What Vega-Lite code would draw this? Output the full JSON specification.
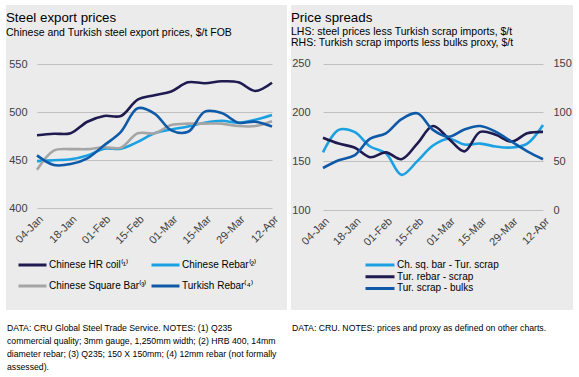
{
  "$schema": "https://vega.github.io/schema/vega-lite/v6.json",
  "background": "white",
  "padding": {"left": 6, "top": 5, "right": 0, "bottom": 0},
  "spacing": 4,
  "resolve": {"scale": {"color": "independent"}, "legend": {"color": "independent"}},
  "config": {
    "view": {"stroke": null},
    "font": "Liberation Sans",
    "axis": {"labelFont": "Liberation Sans", "labelColor": "#404040", "labelFontSize": 11, "domain": false, "ticks": false, "title": null, "gridColor": "#C0C0C0", "gridWidth": 1, "labelOverlap": false},
    "legend": {"labelFont": "Liberation Sans", "labelColor": "#000000", "labelFontSize": 10, "title": null, "symbolType": "stroke", "symbolStrokeWidth": 3, "padding": 0},
    "title": {"anchor": "start", "frame": "group", "font": "Liberation Sans", "fontSize": 13.3, "fontWeight": "normal", "color": "#000000", "subtitleFont": "Liberation Sans", "subtitleFontSize": 10.5, "subtitleColor": "#000000", "subtitlePadding": 3, "subtitleLineHeight": 10.5}
  },
  "hconcat": [
    {
      "bounds": "flush",
      "spacing": 18,
      "vconcat": [
        {
          "width": 281,
          "height": 305,
          "view": {"fill": "#EBEBEB", "stroke": null},
          "title": {"text": "Steel export prices", "subtitle": "Chinese and Turkish steel export prices, $/t FOB", "offset": -33},
          "data": {"values": [
            {"date": "2021-01-04", "series": "Chinese HR coil", "value": 476},
            {"date": "2021-01-11", "series": "Chinese HR coil", "value": 477.5},
            {"date": "2021-01-18", "series": "Chinese HR coil", "value": 478},
            {"date": "2021-01-25", "series": "Chinese HR coil", "value": 490},
            {"date": "2021-02-01", "series": "Chinese HR coil", "value": 496},
            {"date": "2021-02-08", "series": "Chinese HR coil", "value": 496},
            {"date": "2021-02-15", "series": "Chinese HR coil", "value": 513},
            {"date": "2021-02-22", "series": "Chinese HR coil", "value": 517.5},
            {"date": "2021-03-01", "series": "Chinese HR coil", "value": 521.5},
            {"date": "2021-03-08", "series": "Chinese HR coil", "value": 531},
            {"date": "2021-03-15", "series": "Chinese HR coil", "value": 530},
            {"date": "2021-03-22", "series": "Chinese HR coil", "value": 532},
            {"date": "2021-03-29", "series": "Chinese HR coil", "value": 531},
            {"date": "2021-04-05", "series": "Chinese HR coil", "value": 522},
            {"date": "2021-04-12", "series": "Chinese HR coil", "value": 530.5},
            {"date": "2021-01-04", "series": "Chinese Rebar", "value": 449},
            {"date": "2021-01-11", "series": "Chinese Rebar", "value": 450},
            {"date": "2021-01-18", "series": "Chinese Rebar", "value": 451},
            {"date": "2021-01-25", "series": "Chinese Rebar", "value": 455},
            {"date": "2021-02-01", "series": "Chinese Rebar", "value": 462},
            {"date": "2021-02-08", "series": "Chinese Rebar", "value": 462},
            {"date": "2021-02-15", "series": "Chinese Rebar", "value": 469},
            {"date": "2021-02-22", "series": "Chinese Rebar", "value": 478},
            {"date": "2021-03-01", "series": "Chinese Rebar", "value": 482},
            {"date": "2021-03-08", "series": "Chinese Rebar", "value": 485},
            {"date": "2021-03-15", "series": "Chinese Rebar", "value": 489},
            {"date": "2021-03-22", "series": "Chinese Rebar", "value": 491},
            {"date": "2021-03-29", "series": "Chinese Rebar", "value": 489},
            {"date": "2021-04-05", "series": "Chinese Rebar", "value": 492},
            {"date": "2021-04-12", "series": "Chinese Rebar", "value": 497},
            {"date": "2021-01-04", "series": "Chinese Square Bar", "value": 440},
            {"date": "2021-01-11", "series": "Chinese Square Bar", "value": 460},
            {"date": "2021-01-18", "series": "Chinese Square Bar", "value": 461.5},
            {"date": "2021-01-25", "series": "Chinese Square Bar", "value": 461.5},
            {"date": "2021-02-01", "series": "Chinese Square Bar", "value": 463.5},
            {"date": "2021-02-08", "series": "Chinese Square Bar", "value": 463},
            {"date": "2021-02-15", "series": "Chinese Square Bar", "value": 478},
            {"date": "2021-02-22", "series": "Chinese Square Bar", "value": 478},
            {"date": "2021-03-01", "series": "Chinese Square Bar", "value": 486.5},
            {"date": "2021-03-08", "series": "Chinese Square Bar", "value": 488},
            {"date": "2021-03-15", "series": "Chinese Square Bar", "value": 488},
            {"date": "2021-03-22", "series": "Chinese Square Bar", "value": 488},
            {"date": "2021-03-29", "series": "Chinese Square Bar", "value": 485.5},
            {"date": "2021-04-05", "series": "Chinese Square Bar", "value": 485.5},
            {"date": "2021-04-12", "series": "Chinese Square Bar", "value": 490.5},
            {"date": "2021-01-04", "series": "Turkish Rebar", "value": 455},
            {"date": "2021-01-11", "series": "Turkish Rebar", "value": 445},
            {"date": "2021-01-18", "series": "Turkish Rebar", "value": 446},
            {"date": "2021-01-25", "series": "Turkish Rebar", "value": 452},
            {"date": "2021-02-01", "series": "Turkish Rebar", "value": 465.5},
            {"date": "2021-02-08", "series": "Turkish Rebar", "value": 479.5},
            {"date": "2021-02-15", "series": "Turkish Rebar", "value": 504},
            {"date": "2021-02-22", "series": "Turkish Rebar", "value": 498.5},
            {"date": "2021-03-01", "series": "Turkish Rebar", "value": 481},
            {"date": "2021-03-08", "series": "Turkish Rebar", "value": 479.5},
            {"date": "2021-03-15", "series": "Turkish Rebar", "value": 500.5},
            {"date": "2021-03-22", "series": "Turkish Rebar", "value": 499},
            {"date": "2021-03-29", "series": "Turkish Rebar", "value": 489},
            {"date": "2021-04-05", "series": "Turkish Rebar", "value": 490},
            {"date": "2021-04-12", "series": "Turkish Rebar", "value": 485}
          ]},
          "mark": {"type": "line", "interpolate": "catmull-rom", "strokeWidth": 2.6},
          "encoding": {
            "x": {
              "field": "date", "type": "temporal",
              "scale": {"type": "utc", "domain": [{"year": 2021, "month": 1, "date": 4, "utc": true}, {"year": 2021, "month": 4, "date": 12, "utc": true}], "range": [31, 266]},
              "axis": {"format": "%d-%b", "labelAngle": -45, "grid": false, "offset": -101, "labelPadding": 4,
                "values": [
                  {"year": 2021, "month": 1, "date": 4, "utc": true},
                  {"year": 2021, "month": 1, "date": 18, "utc": true},
                  {"year": 2021, "month": 2, "date": 1, "utc": true},
                  {"year": 2021, "month": 2, "date": 15, "utc": true},
                  {"year": 2021, "month": 3, "date": 1, "utc": true},
                  {"year": 2021, "month": 3, "date": 15, "utc": true},
                  {"year": 2021, "month": 3, "date": 29, "utc": true},
                  {"year": 2021, "month": 4, "date": 12, "utc": true}
                ]}
            },
            "y": {
              "field": "value", "type": "quantitative",
              "scale": {"domain": [400, 550], "range": [203.3, 59], "zero": false},
              "axis": {"values": [400, 450, 500, 550], "grid": true, "offset": -25, "labelPadding": 4}
            },
            "color": {
              "field": "series", "type": "nominal",
              "scale": {"domain": ["Chinese HR coil", "Chinese Square Bar", "Chinese Rebar", "Turkish Rebar"], "range": ["#1F1A4F", "#A5A5A5", "#1BA1E2", "#0F5AA8"]},
              "legend": {"orient": "none", "legendX": 11, "legendY": 254, "columns": 2, "columnPadding": 3, "rowPadding": 9, "clipHeight": 12, "symbolSize": 784, "labelOffset": 1,
                "labelExpr": "datum.label == 'Chinese HR coil' ? 'Chinese HR coil⁽¹⁾' : datum.label == 'Chinese Rebar' ? 'Chinese Rebar⁽²⁾' : datum.label == 'Chinese Square Bar' ? 'Chinese Square Bar⁽³⁾' : 'Turkish Rebar⁽⁴⁾'"}
            }
          }
        },
        {
          "width": 281,
          "height": 39,
          "data": {"values": [
            {"line": 1, "text": "DATA: CRU Global Steel Trade Service. NOTES: (1) Q235"},
            {"line": 2, "text": "commercial quality; 3mm gauge, 1,250mm width; (2) HRB 400, 14mm"},
            {"line": 3, "text": "diameter rebar; (3) Q235; 150 X 150mm; (4) 12mm rebar (not formally"},
            {"line": 4, "text": "assessed)."}
          ]},
          "mark": {"type": "text", "align": "left", "baseline": "middle", "fontSize": 8.7, "font": "Liberation Sans", "color": "#000000", "dx": 1},
          "encoding": {
            "x": {"datum": 0, "type": "quantitative", "scale": {"domain": [0, 1]}, "axis": null},
            "y": {"field": "line", "type": "ordinal", "scale": {"type": "point", "domain": [1, 2, 3, 4], "padding": 0}, "axis": null},
            "text": {"field": "text"}
          }
        }
      ]
    },
    {
      "bounds": "flush",
      "spacing": 18,
      "vconcat": [
        {
          "width": 282,
          "height": 305,
          "view": {"fill": "#EBEBEB", "stroke": null},
          "title": {"text": "Price spreads", "subtitle": ["LHS: steel prices less Turkish scrap imports, $/t", "RHS: Turkish scrap imports less bulks proxy, $/t"], "offset": -43},
          "data": {"values": [
            {"date": "2021-01-04", "series": "Ch. sq. bar - Tur. scrap", "value": 159},
            {"date": "2021-01-11", "series": "Ch. sq. bar - Tur. scrap", "value": 182},
            {"date": "2021-01-18", "series": "Ch. sq. bar - Tur. scrap", "value": 180},
            {"date": "2021-01-25", "series": "Ch. sq. bar - Tur. scrap", "value": 165},
            {"date": "2021-02-01", "series": "Ch. sq. bar - Tur. scrap", "value": 158},
            {"date": "2021-02-08", "series": "Ch. sq. bar - Tur. scrap", "value": 136},
            {"date": "2021-02-15", "series": "Ch. sq. bar - Tur. scrap", "value": 150},
            {"date": "2021-02-22", "series": "Ch. sq. bar - Tur. scrap", "value": 166},
            {"date": "2021-03-01", "series": "Ch. sq. bar - Tur. scrap", "value": 173},
            {"date": "2021-03-08", "series": "Ch. sq. bar - Tur. scrap", "value": 167},
            {"date": "2021-03-15", "series": "Ch. sq. bar - Tur. scrap", "value": 168},
            {"date": "2021-03-22", "series": "Ch. sq. bar - Tur. scrap", "value": 165},
            {"date": "2021-03-29", "series": "Ch. sq. bar - Tur. scrap", "value": 164},
            {"date": "2021-04-05", "series": "Ch. sq. bar - Tur. scrap", "value": 168},
            {"date": "2021-04-12", "series": "Ch. sq. bar - Tur. scrap", "value": 187},
            {"date": "2021-01-04", "series": "Tur. rebar - scrap", "value": 174},
            {"date": "2021-01-11", "series": "Tur. rebar - scrap", "value": 168},
            {"date": "2021-01-18", "series": "Tur. rebar - scrap", "value": 164},
            {"date": "2021-01-25", "series": "Tur. rebar - scrap", "value": 154},
            {"date": "2021-02-01", "series": "Tur. rebar - scrap", "value": 159},
            {"date": "2021-02-08", "series": "Tur. rebar - scrap", "value": 152},
            {"date": "2021-02-15", "series": "Tur. rebar - scrap", "value": 168},
            {"date": "2021-02-22", "series": "Tur. rebar - scrap", "value": 186},
            {"date": "2021-03-01", "series": "Tur. rebar - scrap", "value": 173},
            {"date": "2021-03-08", "series": "Tur. rebar - scrap", "value": 160},
            {"date": "2021-03-15", "series": "Tur. rebar - scrap", "value": 180},
            {"date": "2021-03-22", "series": "Tur. rebar - scrap", "value": 177},
            {"date": "2021-03-29", "series": "Tur. rebar - scrap", "value": 170},
            {"date": "2021-04-05", "series": "Tur. rebar - scrap", "value": 178.5},
            {"date": "2021-04-12", "series": "Tur. rebar - scrap", "value": 180},
            {"date": "2021-01-04", "series": "Tur. scrap - bulks", "value": 43},
            {"date": "2021-01-11", "series": "Tur. scrap - bulks", "value": 51},
            {"date": "2021-01-18", "series": "Tur. scrap - bulks", "value": 56},
            {"date": "2021-01-25", "series": "Tur. scrap - bulks", "value": 73},
            {"date": "2021-02-01", "series": "Tur. scrap - bulks", "value": 78.5},
            {"date": "2021-02-08", "series": "Tur. scrap - bulks", "value": 93},
            {"date": "2021-02-15", "series": "Tur. scrap - bulks", "value": 99},
            {"date": "2021-02-22", "series": "Tur. scrap - bulks", "value": 82},
            {"date": "2021-03-01", "series": "Tur. scrap - bulks", "value": 75},
            {"date": "2021-03-08", "series": "Tur. scrap - bulks", "value": 82.5},
            {"date": "2021-03-15", "series": "Tur. scrap - bulks", "value": 86},
            {"date": "2021-03-22", "series": "Tur. scrap - bulks", "value": 80},
            {"date": "2021-03-29", "series": "Tur. scrap - bulks", "value": 70},
            {"date": "2021-04-05", "series": "Tur. scrap - bulks", "value": 60},
            {"date": "2021-04-12", "series": "Tur. scrap - bulks", "value": 52}
          ]},
          "layer": [
            {
              "transform": [{"filter": "datum.series != 'Tur. scrap - bulks'"}],
              "mark": {"type": "line", "interpolate": "catmull-rom", "strokeWidth": 2.6},
              "encoding": {
                "x": {
                  "field": "date", "type": "temporal",
                  "scale": {"type": "utc", "domain": [{"year": 2021, "month": 1, "date": 4, "utc": true}, {"year": 2021, "month": 4, "date": 12, "utc": true}], "range": [32, 252]},
                  "axis": {"format": "%d-%b", "labelAngle": -45, "grid": false, "offset": -99, "labelPadding": 4,
                    "values": [
                      {"year": 2021, "month": 1, "date": 4, "utc": true},
                      {"year": 2021, "month": 1, "date": 18, "utc": true},
                      {"year": 2021, "month": 2, "date": 1, "utc": true},
                      {"year": 2021, "month": 2, "date": 15, "utc": true},
                      {"year": 2021, "month": 3, "date": 1, "utc": true},
                      {"year": 2021, "month": 3, "date": 15, "utc": true},
                      {"year": 2021, "month": 3, "date": 29, "utc": true},
                      {"year": 2021, "month": 4, "date": 12, "utc": true}
                    ]}
                },
                "y": {
                  "field": "value", "type": "quantitative",
                  "scale": {"domain": [100, 250], "range": [205, 58.5], "zero": false},
                  "axis": {"orient": "left", "values": [100, 150, 200, 250], "grid": true, "offset": -23, "labelPadding": 4}
                },
                "color": {
                  "field": "series", "type": "nominal",
                  "scale": {"domain": ["Ch. sq. bar - Tur. scrap", "Tur. rebar - scrap", "Tur. scrap - bulks"], "range": ["#1BA1E2", "#1F1A4F", "#0F5AA8"]},
                  "legend": {"orient": "none", "legendX": 73, "legendY": 255, "rowPadding": 1.7, "clipHeight": 10, "symbolSize": 841, "labelOffset": 1}
                }
              }
            },
            {
              "transform": [{"filter": "datum.series == 'Tur. scrap - bulks'"}],
              "mark": {"type": "line", "interpolate": "catmull-rom", "strokeWidth": 2.6},
              "encoding": {
                "x": {"field": "date", "type": "temporal"},
                "y": {
                  "field": "value", "type": "quantitative",
                  "scale": {"domain": [0, 150], "range": [205, 58.5], "zero": false},
                  "axis": {"orient": "right", "values": [0, 50, 100, 150], "grid": false, "offset": -24, "labelPadding": 4}
                },
                "color": {"field": "series", "type": "nominal"}
              }
            }
          ],
          "resolve": {"scale": {"y": "independent"}, "axis": {"y": "independent"}}
        },
        {
          "width": 282,
          "height": 39,
          "data": {"values": [
            {"line": 1, "text": "DATA: CRU.  NOTES: prices and proxy as defined on other charts."}
          ]},
          "mark": {"type": "text", "align": "left", "baseline": "middle", "fontSize": 8.7, "font": "Liberation Sans", "color": "#000000", "dx": 1},
          "encoding": {
            "x": {"datum": 0, "type": "quantitative", "scale": {"domain": [0, 1]}, "axis": null},
            "y": {"field": "line", "type": "ordinal", "scale": {"type": "point", "domain": [1, 2, 3, 4], "padding": 0}, "axis": null},
            "text": {"field": "text"}
          }
        }
      ]
    }
  ]
}
